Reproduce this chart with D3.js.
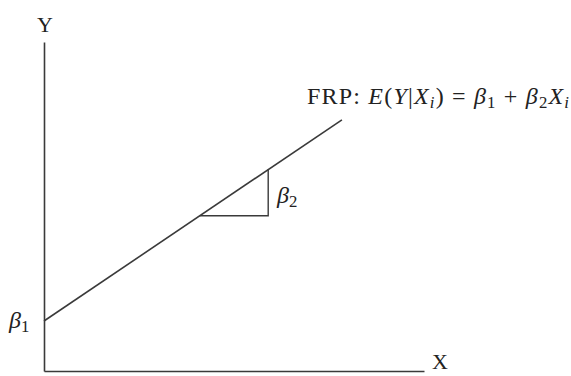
<html>
<head>
<style>
  body { margin: 0; background: #fff; }
  svg text { font-family: "Liberation Serif", "Times New Roman", serif; fill: #222; }
  .axis path { stroke: #3a3a3a; stroke-width: 1.6px; }
  .frp { fill: none; stroke: #3a3a3a; stroke-width: 1.6px; }
  .slope { fill: none; stroke: #3a3a3a; stroke-width: 1.4px; }
</style>
</head>
<body>
<div class="chart"></div>
<script src="https://d3js.org/d3.v7.min.js"></script>
<script>
// conceptual axes, arbitrary units
var xDomain = [0, 100];
var yDomain = [0, 100];

// population regression function E(Y|Xi) = b1 + b2*Xi
var beta1 = 15.2;
var beta2 = 0.78;
var lineX = [0, 78.4];      // where the line starts / ends
var slopeX = [41, 59];      // run of the little slope triangle

// labels, each a list of pieces (i = italic, sub = subscript)
var yLabel = [{t: "Y"}];
var xLabel = [{t: "X"}];
var b1Label = [{t: "\u03b2", i: 1}, {t: "1", sub: 1}];
var b2Label = [{t: "\u03b2", i: 1}, {t: "2", sub: 1}];
var frpLabel = [
  {t: "FRP: "}, {t: "E", i: 1}, {t: "("}, {t: "Y", i: 1}, {t: "|"}, {t: "X", i: 1},
  {t: "i", i: 1, sub: 1}, {t: ")"}, {t: " = "}, {t: "\u03b2", i: 1}, {t: "1", sub: 1},
  {t: " + "}, {t: "\u03b2", i: 1}, {t: "2", sub: 1}, {t: "X", i: 1}, {t: "i", i: 1, sub: 1}
];

var width = 571, height = 376;

var svg = d3.select(".chart").append("svg")
    .attr("width", width)
    .attr("height", height);

var x = d3.scaleLinear().domain(xDomain).range([44, 424]);
var y = d3.scaleLinear().domain(yDomain).range([371, 42]);

function fy(v) { return beta1 + beta2 * v; }

// axes without ticks
svg.append("g")
    .attr("class", "axis")
    .attr("transform", "translate(0," + y(0) + ")")
    .call(d3.axisBottom(x).tickValues([]).tickSizeOuter(0));

svg.append("g")
    .attr("class", "axis")
    .attr("transform", "translate(" + x(0) + ",0)")
    .call(d3.axisLeft(y).tickValues([]).tickSizeOuter(0));

// the FRP line
var line = d3.line()
    .x(function(d){ return x(d); })
    .y(function(d){ return y(fy(d)); });

svg.append("path")
    .attr("class", "frp")
    .attr("d", line(lineX));

// slope triangle: run along, then rise up to the line
var tri = [
  [slopeX[0], fy(slopeX[0])],
  [slopeX[1], fy(slopeX[0])],
  [slopeX[1], fy(slopeX[1])]
];
svg.append("path")
    .attr("class", "slope")
    .attr("d", d3.line().x(function(d){ return x(d[0]); }).y(function(d){ return y(d[1]); })(tri));

// text with italic pieces and subscripts
function mathText(px, py, pieces, size, anchor, fitWidth) {
  var t = svg.append("text")
      .attr("x", px)
      .attr("y", py)
      .attr("font-size", size)
      .attr("text-anchor", anchor || "start");
  var down = false;
  pieces.forEach(function(p){
    var s = t.append("tspan").text(p.t);
    if (p.i) s.attr("font-style", "italic");
    if (p.sub) {
      s.attr("font-size", size * 0.7);
      if (!down) { s.attr("dy", size * 0.18); down = true; }
    } else if (down) {
      s.attr("dy", -size * 0.18); down = false;
    }
  });
  if (fitWidth) t.attr("textLength", fitWidth).attr("lengthAdjust", "spacing");
  return t;
}

mathText(45, 32, yLabel, 22, "middle");
mathText(432, 369, xLabel, 22);
mathText(9, 328, b1Label, 24);
mathText(277, 203, b2Label, 24);
mathText(307, 104, frpLabel, 24, "start", 262);
</script>
</body>
</html>
